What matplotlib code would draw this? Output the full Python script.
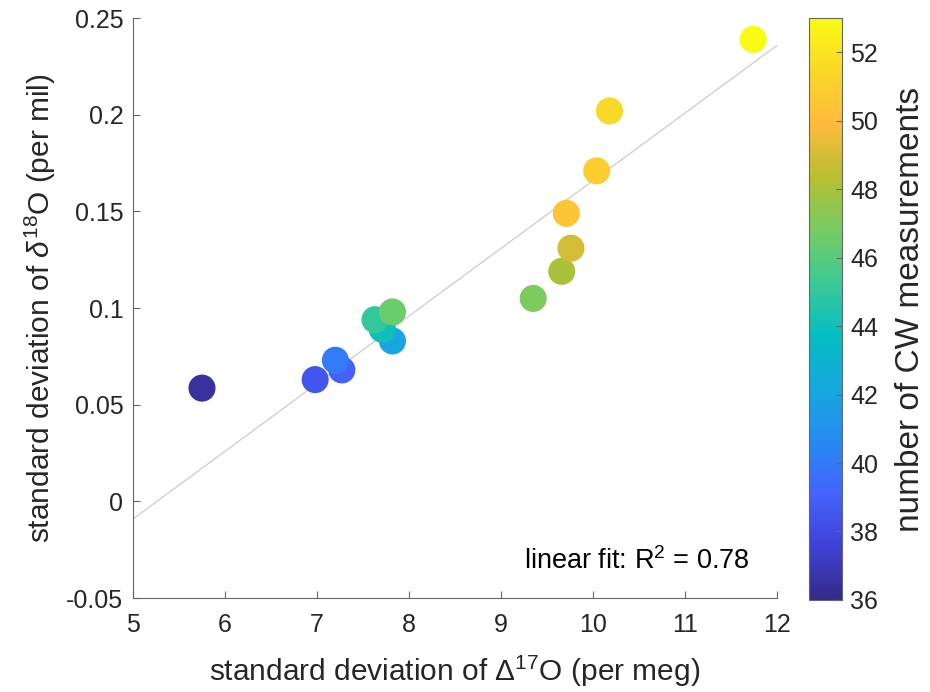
import numpy as np
import matplotlib
matplotlib.use("Agg")
import matplotlib.pyplot as plt
from matplotlib.colors import LinearSegmentedColormap

plt.rcParams['font.family'] = ['Liberation Sans', 'DejaVu Sans']
plt.rcParams['mathtext.fontset'] = 'custom'
plt.rcParams['mathtext.rm'] = 'Liberation Sans'
plt.rcParams['mathtext.it'] = 'Liberation Sans:italic'

# standard deviations and number of CW measurements
sd_d17 = [5.75, 6.98, 7.27, 7.20, 7.82, 7.71, 7.63, 7.82, 9.35, 9.66, 9.76, 9.71, 10.04, 10.18, 11.74]
sd_d18 = [0.0586, 0.063, 0.068, 0.073, 0.083, 0.089, 0.094, 0.098, 0.105, 0.119, 0.131, 0.149, 0.171, 0.202, 0.239]
n_cw = [36.5, 38.5, 39, 40, 42, 44, 45, 46.5, 47, 48, 49, 50.5, 51, 51.5, 53]

# linear fit as shown (slope, intercept)
fit_slope = 0.0350
fit_icept = -0.1841
fit_x = [5, 12]

y_ticks = [-0.05, 0, 0.05, 0.1, 0.15, 0.2, 0.25]
y_ticklabels = ['-0.05', '0', '0.05', '0.1', '0.15', '0.2', '0.25']
cb_ticks = [36, 38, 40, 42, 44, 46, 48, 50, 52]

# approximate MATLAB parula
parula_pts = [
    (0.2081, 0.1663, 0.5292),
    (0.2440, 0.2560, 0.8400),
    (0.2700, 0.3900, 0.9900),
    (0.1500, 0.5400, 0.9500),
    (0.0900, 0.6600, 0.8700),
    (0.0200, 0.7400, 0.7600),
    (0.2400, 0.7900, 0.5800),
    (0.4600, 0.8000, 0.3900),
    (0.7200, 0.7500, 0.1900),
    (0.9900, 0.7300, 0.2400),
    (0.9800, 0.8400, 0.1600),
    (0.9769, 0.9839, 0.0805),
]
parula = LinearSegmentedColormap.from_list('parula', parula_pts)

fig = plt.figure(figsize=(9.3, 6.92), dpi=100)
ax = fig.add_axes([0.143, 0.1358, 0.6925, 0.838])
cax = fig.add_axes([0.870, 0.133, 0.035, 0.841])

ax.plot(fit_x, [fit_slope * x + fit_icept for x in fit_x], color='#d0d0d0', lw=1.0, zorder=1)

sc = ax.scatter(sd_d17, sd_d18, c=n_cw, cmap=parula, vmin=36, vmax=53,
                s=380, edgecolors='none', zorder=2)

ax.set_xlim(5, 12)
ax.set_ylim(-0.05, 0.25)
ax.set_yticks(y_ticks)
ax.set_yticklabels(y_ticklabels)
ax.tick_params(direction='in', labelsize=18, colors='#666666', labelcolor='#262626',
               length=5)
ax.tick_params(axis='x', pad=11)
ax.tick_params(axis='y', pad=7)
ax.spines['top'].set_visible(False)
ax.spines['right'].set_visible(False)
for s in ('left', 'bottom'):
    ax.spines[s].set_color('#666666')
    ax.spines[s].set_linewidth(0.8)
ax.set_xlabel(r'standard deviation of $\Delta^{17}$O (per meg)', fontsize=21.5, color='#262626', labelpad=12)
ax.set_ylabel(r'standard deviation of $\delta^{18}$O (per mil)', fontsize=21.5, color='#262626', labelpad=6)
ax.text(0.958, 0.063, r'linear fit: R$^2$ = 0.78', transform=ax.transAxes,
        ha='right', va='center', fontsize=19.5, color='black')

cb = fig.colorbar(sc, cax=cax, ticks=cb_ticks)
cb.outline.set_edgecolor('#666666')
cb.outline.set_linewidth(0.8)
cb.ax.tick_params(direction='in', labelsize=18, colors='#666666', labelcolor='#262626', length=4, pad=6)
cb.set_label('number of CW measurements', fontsize=24, color='#262626', labelpad=12)

fig.savefig('out.png', dpi=100)
